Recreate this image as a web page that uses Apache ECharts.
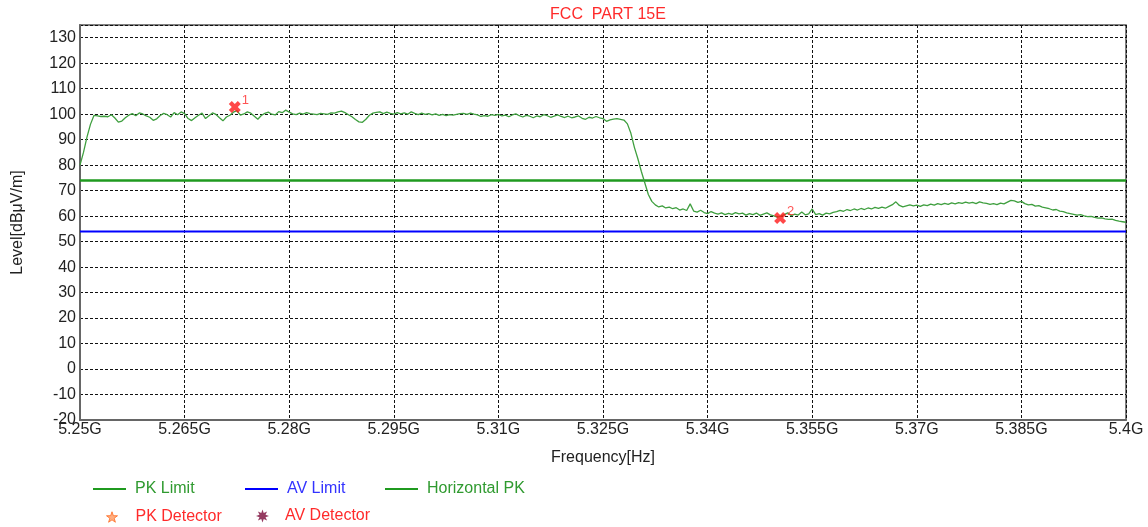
<!DOCTYPE html>
<html>
<head>
<meta charset="utf-8">
<script src="https://cdn.jsdelivr.net/npm/echarts@6/dist/echarts.min.js"></script>
<style>html,body{margin:0;padding:0;background:#fff;}#c{width:1148px;height:527px;}</style>
</head>
<body>
<div id="c"></div>
<script>
// ---- data ----
var sweepStart = 5.25;      // GHz
var sweepStep = 0.0005;     // GHz
var horizontalPK = [
  80.0, 85.0, 91.0, 96.0, 99.5, 99.3, 99.1, 99.2, 99.0, 99.8,
  98.5, 96.9, 97.3, 98.6, 99.6, 100.2, 99.4, 100.5, 100.1, 99.3,
  98.8, 97.6, 98.2, 99.5, 100.3, 99.8, 98.9, 100.6, 99.8, 100.9,
  100.2, 98.3, 97.5, 98.6, 99.6, 100.4, 98.3, 99.4, 100.5, 99.9,
  98.6, 97.4, 98.9, 99.6, 100.8, 101.4, 99.6, 100.1, 100.9, 100.4,
  99.2, 98.0, 99.5, 100.3, 100.8, 100.0, 99.7, 101.0, 100.6, 101.6,
  100.8, 100.1, 99.8, 100.4, 100.0, 100.6, 100.2, 100.0, 99.8, 100.3,
  100.1, 99.9, 100.5, 100.4, 100.9, 101.2, 100.6, 99.8, 99.0, 97.9,
  97.0, 96.8, 98.0, 99.6, 100.4, 100.7, 100.9, 100.2, 100.8, 100.3,
  100.0, 100.6, 100.1, 100.5, 100.0, 100.9, 100.3, 99.8, 100.4, 99.9,
  100.2, 99.7, 100.1, 99.5, 99.9, 99.4, 99.8, 99.6, 99.9, 100.2,
  100.3, 99.9, 100.4, 100.0, 99.7, 99.1, 99.4, 99.2, 99.8, 99.5,
  99.9, 99.3, 99.6, 99.0, 99.7, 100.1, 99.4, 98.9, 99.5, 99.2,
  98.6, 99.3, 99.0, 99.8, 99.4, 98.8, 99.2, 99.7, 99.1, 98.7,
  99.2, 98.6, 98.9, 99.3, 98.4, 98.0, 98.8, 98.5, 99.1, 98.6,
  98.3, 97.2, 97.8, 98.1, 98.3, 98.0, 97.7, 96.2, 92.5, 87.0,
  82.5, 77.5, 73.0, 68.5, 65.8, 64.4, 63.6, 64.0, 63.2, 63.5,
  62.9, 63.3, 62.4, 62.8, 62.2, 64.8, 62.0, 61.6, 62.3, 61.4,
  61.0, 61.8, 61.2, 60.8, 61.3, 60.6, 61.1, 60.7, 61.4, 60.9,
  61.2, 60.4, 61.0, 60.6, 61.2, 60.3, 60.8, 61.3, 60.5, 60.1,
  59.6, 60.0, 60.6, 61.3, 60.2, 60.8, 60.4, 61.6, 60.5, 60.9,
  62.8, 60.6, 61.0, 60.4, 61.2, 60.9, 61.5, 61.8, 62.3, 61.9,
  62.6, 62.2, 62.8, 62.4, 63.0, 62.6, 63.2, 62.8, 63.4, 63.0,
  63.5, 63.1, 63.8, 64.5, 65.6, 64.2, 63.6, 64.0, 64.4, 64.0,
  64.3, 63.8, 64.4, 64.1, 64.7, 64.3, 64.9, 64.5, 65.0, 64.6,
  65.2, 64.8, 65.3, 65.0, 65.5, 65.1, 65.4, 64.9, 65.6, 65.2,
  65.0, 64.6, 64.9, 64.5, 65.1, 64.8, 65.5, 66.2, 66.0, 65.4,
  65.8, 64.9, 64.4, 64.6, 63.9, 64.1, 63.5, 63.2, 62.9, 62.4,
  62.6, 62.0, 61.8, 61.3, 61.0, 60.7, 60.4, 60.6, 60.1, 59.8,
  59.9, 59.5, 59.2, 59.3, 58.9, 58.7, 58.8, 58.3, 58.0, 57.8,
  57.6
];
var pkLimit = 74;
var avLimit = 54;
var markerFreqs = [5.2722, 5.3504];
var markerLevels = [102.8, 59.3];
var markerNames = ['1', '2'];
var xTicks = { min: 5.25, max: 5.4, interval: 0.015 };
var yTicks = { min: -20, max: 135, interval: 10 };
var titleText = 'FCC  PART 15E';
var xName = 'Frequency[Hz]';
var yName = 'Level[dB\u03bcV/m]';
var legendNames = ['PK Limit', 'AV Limit', 'Horizontal PK', 'PK Detector', 'AV Detector'];

// ---- build ----
var traceData = horizontalPK.map(function (v, i) {
  return [+(sweepStart + i * sweepStep).toFixed(4), v];
});
var markerData = markerFreqs.map(function (f, i) { return [f, markerLevels[i], markerNames[i]]; });

var FONT = 'Liberation Sans, Arial, sans-serif';
var starPath = 'path://M10 0L12.35 6.76L19.51 6.91L13.8 11.24L15.88 18.09L10 14L4.12 18.09L6.2 11.24L0.49 6.91L7.65 6.76Z';
var burstPath = 'path://M20 10L14.62 11.91L17.07 17.07L11.91 14.62L10 20L8.09 14.62L2.93 17.07L5.38 11.91L0 10L5.38 8.09L2.93 2.93L8.09 5.38L10 0L11.91 5.38L17.07 2.93L14.62 8.09Z';
var xPath = 'path://M0 3L3 0L6 3L9 0L12 3L9 6L12 9L9 12L6 9L3 12L0 9L3 6Z';

function lineLegend(name, left, top, color, textColor) {
  return {
    data: [{ name: name, icon: 'rect' }],
    left: left, top: top, orient: 'horizontal', padding: 0,
    itemWidth: 33, itemHeight: 2,
    selectedMode: false,
    itemStyle: { color: color },
    textStyle: { color: textColor, fontSize: 16, fontFamily: FONT, padding: [0, 0, 0, 4] }
  };
}

var option = {
  animation: false,
  backgroundColor: '#fff',
  title: {
    text: titleText, left: 603, top: 2, textAlign: 'center',
    textStyle: { color: '#ff2a2a', fontSize: 16, fontWeight: 'normal', fontFamily: FONT }
  },
  legend: [
    lineLegend(legendNames[0], 93, 481, '#1f9a1f', '#2f9a2f'),
    lineLegend(legendNames[1], 245, 481, '#0000ff', '#3333ff'),
    lineLegend(legendNames[2], 385, 481, '#1f9a1f', '#2f9a2f'),
    {
      data: [{ name: legendNames[3], icon: starPath }],
      left: 106, top: 509, padding: 0, itemWidth: 11, itemHeight: 11, selectedMode: false,
      itemStyle: { color: '#ff9a60', borderColor: '#ff6a20', borderWidth: 1 },
      textStyle: { color: '#ff2a2a', fontSize: 16, fontFamily: FONT, padding: [0, 0, 0, 13] }
    },
    {
      data: [{ name: legendNames[4], icon: burstPath }],
      left: 256, top: 508, padding: 0, itemWidth: 13, itemHeight: 13, selectedMode: false,
      itemStyle: { color: '#7a0a3a' },
      textStyle: { color: '#ff2a2a', fontSize: 16, fontFamily: FONT, padding: [0, 0, 0, 11] }
    }
  ],
  grid: { left: 80, right: 22, top: 25, bottom: 107, outerBoundsMode: 'none', containLabel: false,
    show: true, borderColor: '#555', borderWidth: 1.5, backgroundColor: '#fff' },
  xAxis: {
    type: 'value', min: xTicks.min, max: xTicks.max, interval: xTicks.interval,
    name: xName, nameLocation: 'middle', nameGap: 30,
    nameTextStyle: { color: '#222', fontSize: 16, fontFamily: FONT },
    axisLine: { show: true, onZero: false, lineStyle: { color: '#666', width: 2 } },
    axisTick: { show: false },
    axisLabel: {
      color: '#222', fontSize: 16, fontFamily: FONT, margin: 2,
      formatter: function (v) { return parseFloat(v.toFixed(4)) + 'G'; }
    },
    splitLine: { show: true, lineStyle: { color: '#111', type: [3, 2], width: 1 } }
  },
  yAxis: {
    type: 'value', min: yTicks.min, max: yTicks.max, interval: yTicks.interval,
    name: yName, nameLocation: 'middle', nameGap: 54,
    nameTextStyle: { color: '#222', fontSize: 16, fontFamily: FONT },
    axisLine: { show: true, onZero: false, lineStyle: { color: '#666', width: 2 } },
    axisTick: { show: false },
    axisLabel: { color: '#222', fontSize: 16, fontFamily: FONT, margin: 4, showMaxLabel: false,
      formatter: function (v) { return v === yTicks.max ? '' : String(v); } },
    splitLine: { show: true, lineStyle: { color: '#111', type: [3, 2], width: 1 } }
  },
  series: [
    {
      name: legendNames[0], type: 'line', symbol: 'none', silent: true,
      data: [[xTicks.min, pkLimit], [xTicks.max, pkLimit]],
      lineStyle: { color: '#1f9a1f', width: 2.5 }, itemStyle: { color: '#1f9a1f' }, z: 3
    },
    {
      name: legendNames[1], type: 'line', symbol: 'none', silent: true,
      data: [[xTicks.min, avLimit], [xTicks.max, avLimit]],
      lineStyle: { color: '#0000ff', width: 2 }, itemStyle: { color: '#0000ff' }, z: 3
    },
    {
      name: legendNames[2], type: 'line', symbol: 'none', silent: true,
      data: traceData,
      lineStyle: { color: '#3f9f3f', width: 1.3 }, itemStyle: { color: '#1f9a1f' }, z: 4
    },
    { name: legendNames[3], type: 'scatter', data: [], itemStyle: { color: '#ff9a60' } },
    { name: legendNames[4], type: 'scatter', data: [], itemStyle: { color: '#7a0a3a' } },
    {
      name: 'markers', type: 'scatter', symbol: xPath, symbolSize: 12, z: 6,
      data: markerData,
      itemStyle: { color: '#ff1a1a' },
      label: {
        show: true, position: [13, -7], color: '#ff2a2a', fontSize: 13, fontFamily: FONT,
        formatter: function (p) { return p.data[2]; }
      }
    }
  ]
};
var chart = echarts.init(document.getElementById('c'), null, { renderer: 'canvas' });
chart.setOption(option);
</script>
</body>
</html>
